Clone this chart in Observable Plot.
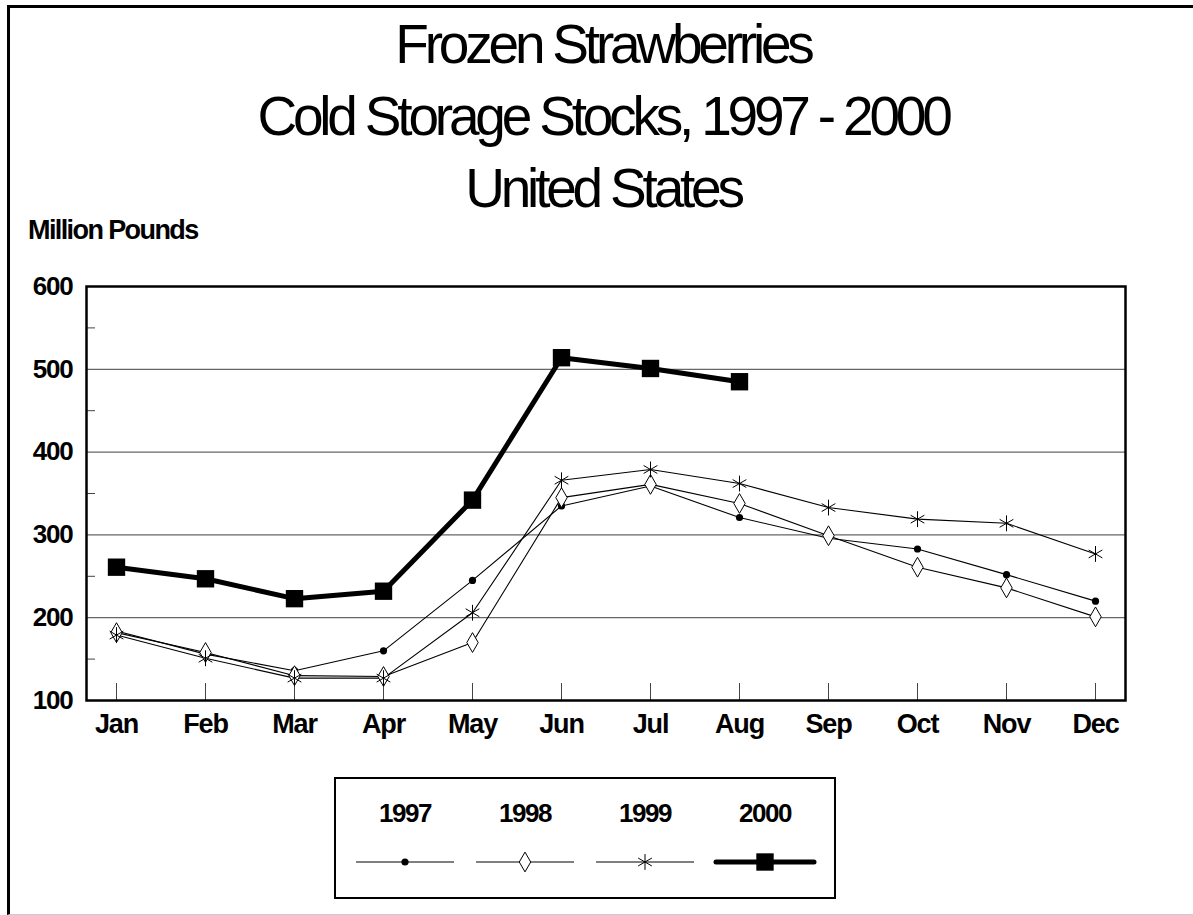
<!DOCTYPE html>
<html>
<head>
<meta charset="utf-8">
<script src="https://cdn.jsdelivr.net/npm/d3@7"></script>
<script src="https://cdn.jsdelivr.net/npm/@observablehq/plot@0.6"></script>
<style>
  body { margin: 0; background: #fff; }
  #wrap { position: relative; width: 1193px; height: 915px; overflow: hidden;
          font-family: "Liberation Sans", Arial, sans-serif; color: #000; }
  #frame { position: absolute; left: 7px; top: 5px; width: 1190px; height: 906px;
           border-top: 3px solid #000; border-left: 3px solid #000; border-bottom: 1px solid #ccc; }
  #chart { position: absolute; left: 0; top: 0; }
  #chart svg text { letter-spacing: -1.2px; font-weight: bold; }
  #title { position: absolute; left: 8px; width: 1190px; top: 8px; text-align: center;
           font-size: 55px; letter-spacing: -4.2px; line-height: 72px; }
  #ylabel { position: absolute; left: 28px; top: 217px; font-size: 27px; line-height: 1;
            letter-spacing: -1.6px; font-weight: bold; }
  #legend { position: absolute; left: 334px; top: 777px; }
</style>
</head>
<body>
<div id="wrap">
  <div id="frame"></div>
  <div id="chart"></div>
  <div id="title">Frozen Strawberries<br>Cold Storage Stocks, 1997 - 2000<br>United States</div>
  <div id="ylabel">Million Pounds</div>
  <div id="legend"></div>
</div>
<script>
const months = ["Jan","Feb","Mar","Apr","May","Jun","Jul","Aug","Sep","Oct","Nov","Dec"];
const years = ["1997","1998","1999","2000"];
const v1997 = [184,156,136,160,245,335,359,321,296,283,252,220];
const v1998 = [182,158,130,129,170,345,361,338,299,261,236,201];
const v1999 = [179,151,127,127,206,366,379,362,333,319,314,277];
const v2000 = [261,247,223,232,342,514,501,485];
const yTicks = [100,200,300,400,500,600];
const gridVals = [200,300,400,500];
const minorVals = [150,250,350,450,550];

const series = {"1997": v1997, "1998": v1998, "1999": v1999, "2000": v2000};
const rows = [];
for (const yr of years) series[yr].forEach((v, i) => rows.push({year: yr, month: months[i], value: v}));
const of = yr => rows.filter(d => d.year === yr);
const thin = rows.filter(d => d.year !== "2000");

const W = 1193, H = 915, ml = 86, mr = 68, mt = 286, mb = 215;
const innerW = W - ml - mr, innerH = H - mt - mb;

const chart = Plot.plot({
  width: W, height: H,
  marginLeft: ml, marginRight: mr, marginTop: mt, marginBottom: mb,
  style: {fontFamily: "Liberation Sans, Arial, sans-serif", fontSize: "26px", color: "#000", background: "transparent", overflow: "visible"},
  x: {type: "point", domain: months, padding: 0.29},
  y: {domain: [100, 600]},
  marks: [
    Plot.ruleY(gridVals, {stroke: "#666", strokeWidth: 1.2}),
    Plot.tickY(minorVals, {stroke: "#444", strokeWidth: 1, insetRight: innerW - 9}),
    Plot.tickX(months, {x: d => d, stroke: "#444", strokeWidth: 1, insetTop: innerH - 17}),
    Plot.frame({stroke: "#000", strokeWidth: 2.5}),
    Plot.axisY({ticks: yTicks, tickSize: 0, tickPadding: 14, label: null, fontSize: 26}),
    Plot.axisX({tickSize: 0, tickPadding: 13, label: null, fontSize: 27}),
    Plot.line(thin, {x: "month", y: "value", z: "year", stroke: "#000", strokeWidth: 1.1}),
    Plot.dot(of("1997"), {x: "month", y: "value", symbol: "circle", r: 3.6, fill: "#000", stroke: null}),
    Plot.dot(of("1998"), {x: "month", y: "value", symbol: "diamond", r: 6, fill: "#fff", stroke: "#000", strokeWidth: 1}),
    Plot.dot(of("1999"), {x: "month", y: "value", symbol: "asterisk", r: 7.5, stroke: "#000", strokeWidth: 1}),
    Plot.line(of("2000"), {x: "month", y: "value", stroke: "#000", strokeWidth: 5}),
    Plot.dot(of("2000"), {x: "month", y: "value", symbol: "square", r: 9.8, fill: "#000", stroke: null})
  ]
});
document.getElementById("chart").appendChild(chart);

// Legend
const symbolMap = {"1997": d3.symbolCircle, "1998": d3.symbolDiamond, "1999": d3.symbolAsterisk, "2000": d3.symbolSquare};
const symbolR = {"1997": 3.6, "1998": 6, "1999": 7.5, "2000": 9.8};
const lg = d3.select("#legend").append("svg").attr("width", 502).attr("height", 122);
lg.append("rect").attr("x", 1).attr("y", 1).attr("width", 500).attr("height", 120)
  .attr("fill", "#fff").attr("stroke", "#000").attr("stroke-width", 2);
years.forEach((yr, i) => {
  const cx = 71 + i * 120;
  lg.append("text").attr("x", cx).attr("y", 45).attr("text-anchor", "middle")
    .attr("font-family", "Liberation Sans, Arial, sans-serif").attr("font-size", 26)
    .attr("font-weight", "bold").attr("letter-spacing", "-1.5px").text(yr);
  lg.append("line").attr("x1", cx - 49).attr("x2", cx + 49).attr("y1", 85).attr("y2", 85)
    .attr("stroke", "#000").attr("stroke-width", yr === "2000" ? 5 : 1).attr("stroke-linecap", yr === "2000" ? "round" : "butt");
  const p = lg.append("path").attr("transform", `translate(${cx},85)`)
    .attr("d", d3.symbol(symbolMap[yr], Math.PI * symbolR[yr] * symbolR[yr])());
  if (yr === "1998") p.attr("fill", "#fff").attr("stroke", "#000");
  else if (yr === "1999") p.attr("fill", "none").attr("stroke", "#000");
  else p.attr("fill", "#000");
});
</script>
</body>
</html>
